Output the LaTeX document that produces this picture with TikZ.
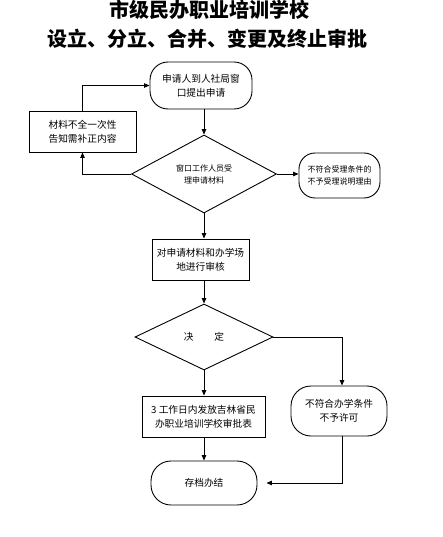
\documentclass[tikz,border=0pt]{standalone}
\usepackage{fontspec}
\setmainfont{Noto Sans CJK SC}
\usetikzlibrary{arrows.meta,shapes.geometric}
\begin{document}
\begin{tikzpicture}[x=1pt,y=-1pt,line width=0.9pt,
  txt/.style={font=\fontsize{9.7}{14}\selectfont},
  small/.style={font=\fontsize{8}{12}\selectfont},
  box/.style={draw,rectangle,align=center,inner sep=0pt,txt},
  term/.style={draw,rectangle,rounded corners=18pt,align=center,inner sep=0pt,txt},
  dec/.style={draw,diamond,aspect=2,inner sep=0pt,align=center,txt},
  arr/.style={-{Triangle[length=5.5pt,width=4.5pt]}},
  title/.style={font=\fontsize{20}{24}\selectfont\bfseries}]
\useasboundingbox (0,0) rectangle (443,537);
\fill[white] (0,0) rectangle (443,537);
% title
\node[title] (t1) at (209,10) {市级民办职业培训学校};
\node[title] (t2) at (207.5,39) {设立、分立、合并、变更及终止审批};
% nodes
\node[term,minimum width=102pt,minimum height=47pt] (start) at (201,85.5) {申请人到人社局窗\\口提出申请};
\node[box,minimum width=107pt,minimum height=41pt] (fix) at (82.5,131.5) {材料不全一次性\\告知需补正内容};
\node[dec,small,minimum width=145pt,minimum height=78pt] (acc) at (204,174) {窗口工作人员受\\理申请材料};
\node[term,small,rounded corners=16pt,minimum width=81pt,minimum height=45pt] (rej) at (339.5,175.5) {不符合受理条件的\\不予受理说明理由};
\node[box,minimum width=97pt,minimum height=41pt] (rev) at (200.5,259.5) {对申请材料和办学场\\地进行审核};
\node[dec,minimum width=138pt,minimum height=66pt] (dec) at (204,337) {决\hspace{21pt}定};
\node[term,rounded corners=20pt,minimum width=96pt,minimum height=50pt] (no) at (339,411) {不符合办学条件\\不予许可};
\node[box,minimum width=123pt,minimum height=41pt] (iss) at (203.5,416.5) {3 工作日内发放吉林省民\\办职业培训学校审批表};
\node[term,rounded corners=20pt,minimum width=106pt,minimum height=44pt] (end) at (204,483) {存档办结};
% connectors
\draw[arr] (acc.north |- start.south) -- (acc.north);
\draw[arr] (acc.west) -| (fix.south);
\draw[arr] (fix.north) |- (start.west);
\draw[arr] (acc.east) -- (acc.east -| rej.west);
\draw[arr] (acc.south) -- (acc.south |- rev.north);
\draw[arr] (rev.south -| dec.north) -- (dec.north);
\draw[arr] (dec.east) -| ([xshift=3pt]no.north);
\draw[arr] (dec.south) -- (dec.south |- iss.north);
\draw[arr] (iss.south -| end.north) -- (end.north);
\draw[arr] ([xshift=3pt]no.south) |- ([xshift=9pt]end.east);
\end{tikzpicture}
\end{document}
